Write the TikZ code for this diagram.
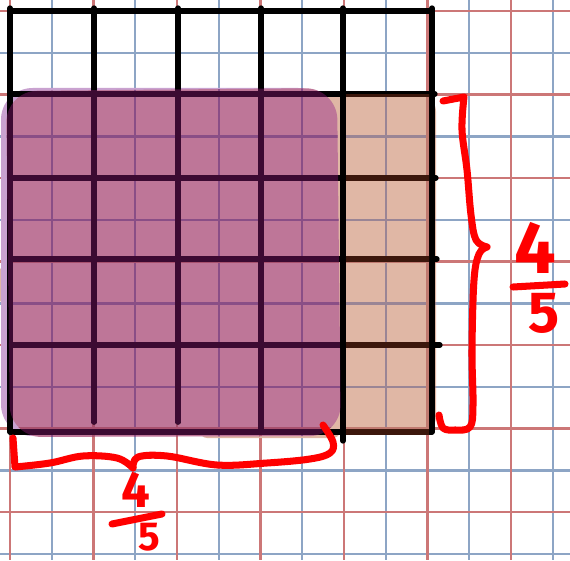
\documentclass[tikz,border=0pt]{standalone}
\usepackage{fontspec}
\setmainfont{Fira Sans}
\definecolor{paperblue}{HTML}{8DA5C5}
\definecolor{paperred}{HTML}{CC7777}
\definecolor{plum}{HTML}{BE7698}
\definecolor{plumblue}{HTML}{8A4E86}
\definecolor{plumred}{HTML}{A8506E}
\definecolor{lilac}{HTML}{C9A2D0}
\definecolor{peach}{HTML}{E0B7A5}
\definecolor{peachblue}{HTML}{9A8595}
\definecolor{peachred}{HTML}{C07A70}
\definecolor{darkplum}{HTML}{3C0A32}
\definecolor{darkpeach}{HTML}{3C170C}
\tikzset{
  paperline/.style={line width=1.35pt},
  gridline/.style={line width=3pt, line cap=round},
  penline/.style={red, line width=4pt, line cap=round, line join=round},
  digit/.style={red, inner sep=0pt, font=\bfseries\fontsize{#1}{#1}\selectfont},
}
% squared paper, in two colours
\newcommand{\paperlines}[2]{%
  \foreach \k in {0,...,6} {
    \draw[paperline, #1] ({51.75+83.5*\k},0) -- ({51.75+83.5*\k},560);
    \draw[paperline, #1] (0,{53+83.5*\k}) -- (570,{53+83.5*\k});
  }
  \foreach \k in {0,...,6} {
    \draw[paperline, #2] ({10+83.5*\k},0) -- ({10+83.5*\k},560);
    \draw[paperline, #2] (0,{11+83.5*\k}) -- (570,{11+83.5*\k});
  }
}
% the 5 by 5 square, drawn by hand
\newcommand{\gridlines}[1]{%
  \foreach \y/\xe in {11/432, 94/435, 178/436, 259/437, 345/440, 432/432}
    \draw[gridline, #1] (10,\y) -- (\xe,\y);
  \foreach \x/\ye in {10/432, 94/422, 178/422, 261/430, 343/441, 432/432}
    \draw[gridline, #1] (\x,8) -- (\x,\ye);
}
\newcommand{\plumpath}{(6,91) -- (337,88) -- (341,436) -- (10,437) -- cycle}
\begin{document}
\begin{tikzpicture}[x=0.02cm, y=-0.02cm]
\useasboundingbox (0,0) rectangle (570,560);
\clip (0,0) rectangle (570,560);
\paperlines{paperblue}{paperred}
% highlighted parts
\fill[peach, rounded corners=10] (300,94) rectangle (436,434);
\fill[peach, rounded corners=4] (200,428) rectangle (340,438);
\fill[peach] (3,285) ellipse [x radius=6, y radius=18];
\fill[lilac, rounded corners=18] (1,88) rectangle (330,436);
\fill[plum, rounded corners=18] \plumpath;
\begin{scope}
  \clip (341,94) rectangle (436,434);
  \paperlines{peachblue}{peachred}
\end{scope}
\begin{scope}
  \clip[rounded corners=18] \plumpath;
  \paperlines{plumblue}{plumred}
\end{scope}
\gridlines{black}
\begin{scope}
  \clip (346,95) rectangle (429,434);
  \gridlines{darkpeach}
\end{scope}
\begin{scope}
  \clip[rounded corners=18] \plumpath;
  \gridlines{darkplum}
\end{scope}
% right brace and 4/5
\draw[penline] (443,101) -- (464,97)
  plot[smooth, tension=0.6] coordinates {(464,97) (462,130) (467,170) (471,215) (476,240) (487,247)};
\draw[penline] plot[smooth, tension=0.6] coordinates {(487,247) (479,254) (474,280) (472,350) (473,405) (470,427) (455,430) (443,428) (439,415)};
\node[digit=42] (rnum) at (535,248) {4};
\node[digit=33] (rden) at (544,313) {5};
\coordinate (rbarL) at (513,287);
\coordinate (rbarR) at (565,284);
\draw[penline] (rbarL) -- (rbarR);
% bottom brace and 4/5
\draw[penline] (13,438) -- (15,467)
  plot[smooth, tension=0.6] coordinates {(15,467) (50,463) (83,456) (117,458) (133,468)};
\draw[penline] plot[smooth, tension=0.6] coordinates {(133,468) (138,457) (167,456) (217,465) (267,463) (310,459) (330,453) (333,442) (323,425)};
\node[digit=29] (bnum) at (136,490) {4};
\node[digit=23] (bden) at (149,537) {5};
\coordinate (bbarL) at (112,524);
\coordinate (bbarR) at (162,514);
\draw[penline] (bbarL) -- (bbarR);
\end{tikzpicture}
\end{document}
